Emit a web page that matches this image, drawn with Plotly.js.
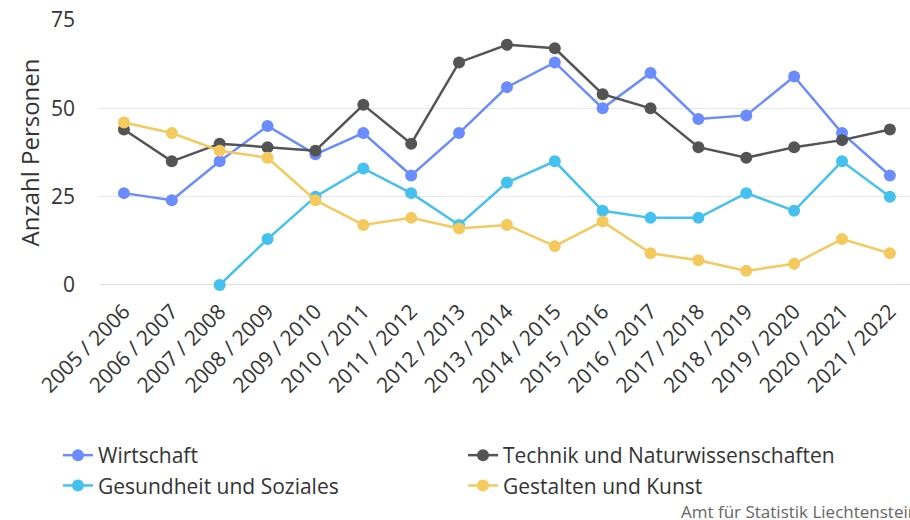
<!DOCTYPE html>
<html>
<head>
<meta charset="utf-8">
<script src="https://cdn.plot.ly/plotly-3.0.1.min.js"></script>
<style>html,body{margin:0;padding:0;background:#fff;}#chart{width:910px;height:520px;}</style>
</head>
<body>
<div id="chart"></div>
<script>
const categories = ["2005 / 2006","2006 / 2007","2007 / 2008","2008 / 2009","2009 / 2010","2010 / 2011","2011 / 2012","2012 / 2013","2013 / 2014","2014 / 2015","2015 / 2016","2016 / 2017","2017 / 2018","2018 / 2019","2019 / 2020","2020 / 2021","2021 / 2022"];
const wirtschaft = [26,24,35,45,37,43,31,43,56,63,50,60,47,48,59,43,31];
const technik = [44,35,40,39,38,51,40,63,68,67,54,50,39,36,39,41,44];
const gesundheit = [null,null,0,13,25,33,26,17,29,35,21,19,19,26,21,35,25];
const gestalten = [46,43,38,36,24,17,19,16,17,11,18,9,7,4,6,13,9];
const seriesNames = ["Wirtschaft","Technik und Naturwissenschaften","Gesundheit und Soziales","Gestalten und Kunst"];
const seriesColors = ["#6b8cff","#545454","#44c1ee","#f4c95e"];
const seriesData = [wirtschaft, technik, gesundheit, gestalten];

const traces = seriesData.map((vals, i) => ({
  type: 'scatter', mode: 'lines+markers',
  x: categories, y: vals, name: seriesNames[i],
  line: {color: seriesColors[i], width: 2.5},
  marker: {color: seriesColors[i], size: 12},
  cliponaxis: false,
  connectgaps: false
}));

const layout = {
  width: 910, height: 520,
  margin: {l: 100, r: 0, t: 20, b: 235},
  paper_bgcolor: '#fff', plot_bgcolor: '#fff',
  font: {family: '"Open Sans", sans-serif', color: '#333'},
  showlegend: true,
  xaxis: {
    type: 'category', range: [-0.5, 16.42],
    tickangle: -45, tickfont: {size: 21, color: '#333'},
    ticklabelstandoff: 9,
    showgrid: false, zeroline: false, showline: false, ticks: ''
  },
  yaxis: {
    range: [0, 75], tickvals: [0,25,50,75],
    tickfont: {size: 21, color: '#333'},
    gridcolor: '#e6e6e6', gridwidth: 1, zeroline: false,
    ticklabelstandoff: 24,
    title: {text: 'Anzahl Personen', font: {size: 24, color: '#333'}, standoff: 4}
  },
  shapes: [{type: 'line', xref: 'paper', yref: 'y', x0: 0, x1: 1, y0: 0, y1: 0, line: {color: '#ccd6eb', width: 1.5}, layer: 'below'}],
  legend: {
    orientation: 'h', xref: 'container', yref: 'container',
    x: 58/910, xanchor: 'left', y: 1 - 435/520, yanchor: 'top',
    entrywidth: 360, entrywidthmode: 'pixels',
    font: {size: 21, color: '#333'}, itemwidth: 30,
    bgcolor: 'rgba(0,0,0,0)'
  },
  annotations: [{
    text: 'Amt für Statistik Liechtenstein', xref: 'paper', yref: 'paper',
    x: 1.012, xanchor: 'right', y: -0.853, yanchor: 'middle', showarrow: false,
    font: {size: 17, color: '#666'}
  }]
};
Plotly.newPlot('chart', traces, layout, {displayModeBar: false, staticPlot: true});
</script>
</body>
</html>
